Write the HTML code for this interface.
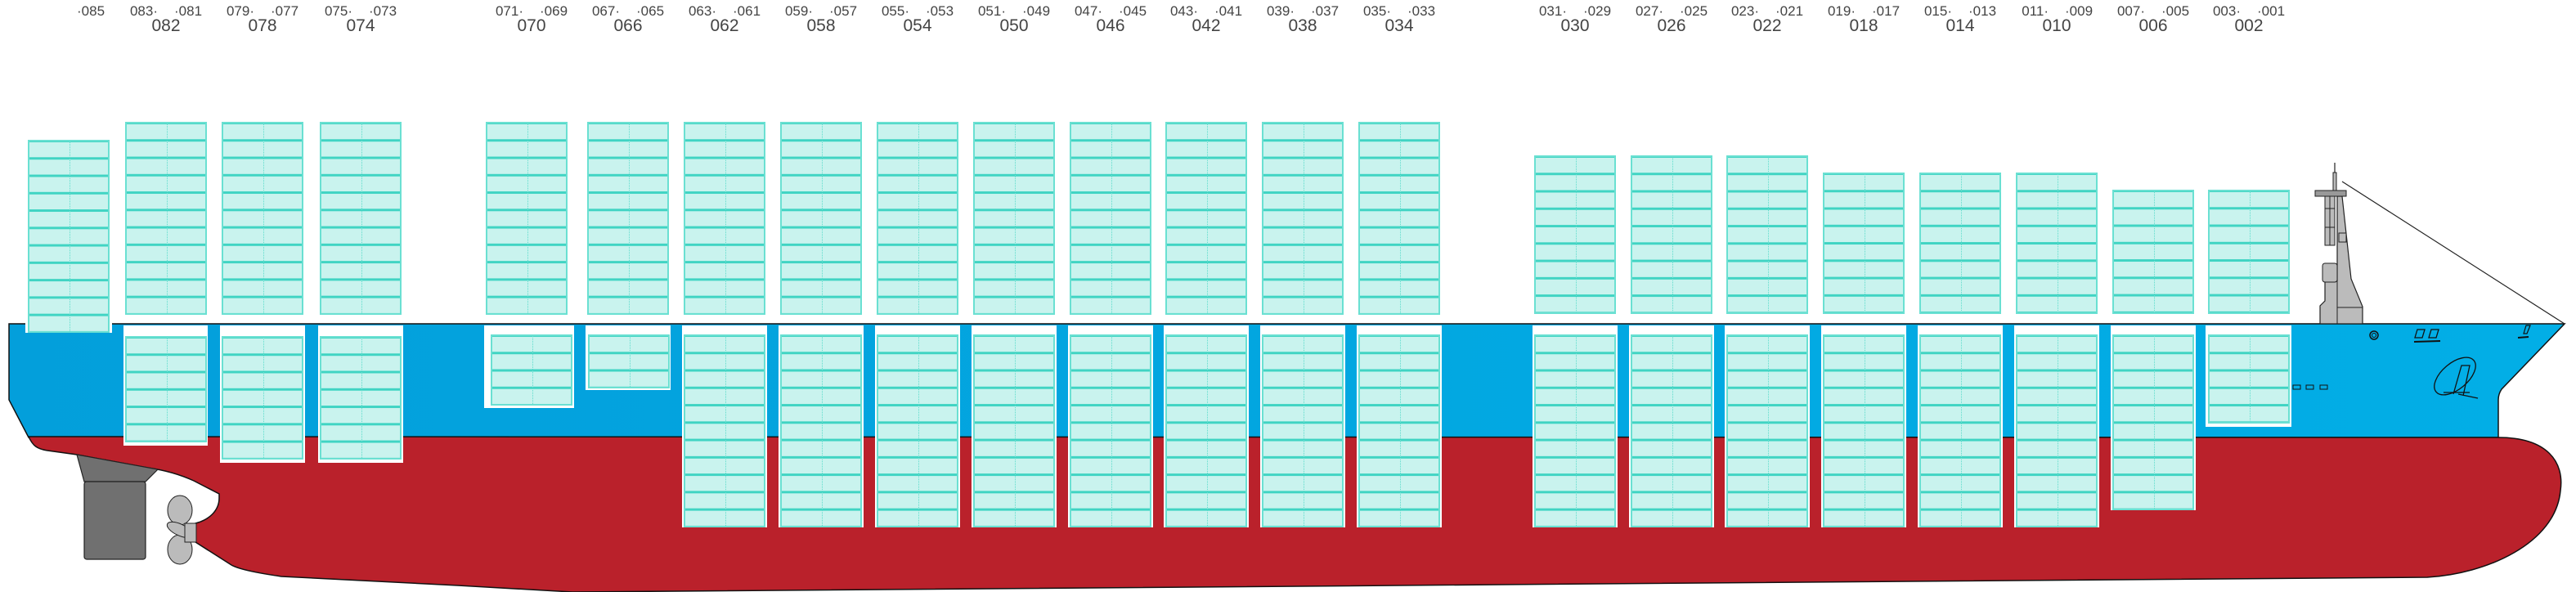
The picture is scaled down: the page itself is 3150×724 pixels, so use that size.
<!DOCTYPE html>
<html><head><meta charset="utf-8"><style>
html,body{margin:0;padding:0;background:#fff;width:3150px;height:724px;overflow:hidden;position:relative}
svg{position:absolute;left:0;top:0}
.st{position:absolute;box-sizing:border-box;width:100px;border:2px solid #6ae0d2;background:linear-gradient(#40d4c3 0 3px,#c9f3ee 3px) 0 -2px/100% 21.27px}
.st::after{content:"";position:absolute;left:49px;top:0;bottom:0;border-left:1.5px dotted #5fdccc}
.hb{position:absolute;background:#fff}
</style></head><body>
<svg width="3150" height="724" viewBox="0 0 3150 724" font-family="Liberation Sans, sans-serif" fill="#444">
<defs><linearGradient id="bl" x1="0" x2="1"><stop offset="0" stop-color="#039fdb"/><stop offset="1" stop-color="#02aee6"/></linearGradient></defs>
<path d="M11,396 L3136,396 L3059,476 Q3055,482 3055,489 L3055,535 L35,535 L11,489 Z" fill="url(#bl)" stroke="#111" stroke-width="1.5"/>
<path d="M35,534 L3055,535 C3115,535 3136,565 3131,600 C3125,665 3040,702 2968,706 L700,724 L560,716 L344,705 C310,700 290,695 283,691 L239,663 L239,640 C255,636 268,625 268,609 L268,604 L237,588 C215,578 195,574 180,572 L94,556 L58,551 C45,549 40,545 35,534 Z" fill="#ba212b" stroke="#111" stroke-width="1.5"/>
<polygon points="94,556 193,574 178,589 103,589" fill="#707070" stroke="#222" stroke-width="1.2"/>
<rect x="103" y="589" width="75" height="95" rx="3" fill="#707070" stroke="#222" stroke-width="1.2"/>
<ellipse cx="220" cy="624" rx="15" ry="18" fill="#bbb" stroke="#222"/>
<ellipse cx="220" cy="672" rx="15" ry="18" fill="#bbb" stroke="#222"/>
<ellipse cx="220" cy="648" rx="17" ry="7" fill="#bbb" stroke="#222" transform="rotate(25 220 648)"/>
<rect x="226" y="640" width="14" height="23" fill="#bbb" stroke="#222"/>
<line x1="2864" y1="222" x2="3136" y2="396" stroke="#222" stroke-width="1.2"/>
<line x1="2855" y1="199" x2="2855" y2="213" stroke="#222" stroke-width="1.2"/>
<rect x="2853" y="211" width="4" height="22" fill="#bbb" stroke="#222"/>
<polygon points="2837,396 2837,374 2843,368 2843,343 2858,343 2858,240 2864,240 2875,341 2889,375 2889,396" fill="#bbb" stroke="#222" stroke-width="1.2"/>
<line x1="2858" y1="343" x2="2858" y2="396" stroke="#222"/>
<line x1="2858" y1="376" x2="2889" y2="376" stroke="#222"/>
<rect x="2840" y="322" width="18" height="23" rx="3" fill="#bbb" stroke="#222"/>
<rect x="2831" y="233" width="38" height="7" fill="#999" stroke="#222"/>
<rect x="2843" y="240" width="12" height="60" fill="#bbb" stroke="#222"/>
<line x1="2849" y1="240" x2="2849" y2="300" stroke="#222"/>
<line x1="2843" y1="255" x2="2855" y2="255" stroke="#222"/><line x1="2843" y1="278" x2="2855" y2="278" stroke="#222"/>
<rect x="2860" y="285" width="9" height="11" fill="#bbb" stroke="#222"/>
<circle cx="2903" cy="410" r="5" fill="none" stroke="#111" stroke-width="1.5"/><circle cx="2903" cy="410" r="2.5" fill="none" stroke="#111"/>
<path d="M2956,403 h9 l-3,10 h-9 z M2973,403 h9 l-3,10 h-9 z" fill="none" stroke="#111" stroke-width="1.3"/>
<line x1="2952" y1="418" x2="2984" y2="417" stroke="#111" stroke-width="2"/>
<path d="M3089,398 h5 l-4,10 h-4 z" fill="none" stroke="#111" stroke-width="1.2"/>
<line x1="3079" y1="413" x2="3092" y2="412" stroke="#111" stroke-width="2"/>
<rect x="2804" y="471" width="9" height="5" fill="none" stroke="#111"/><rect x="2820" y="471" width="9" height="5" fill="none" stroke="#111"/><rect x="2837" y="471" width="9" height="5" fill="none" stroke="#111"/>
<ellipse cx="3002" cy="460" rx="30" ry="16" transform="rotate(-40 3002 460)" fill="none" stroke="#111" stroke-width="1.3"/>
<path d="M3000,482 L3010,447 L3020,447 L3012,484 M3006,482 L3030,487 M2988,480 L3020,480" fill="none" stroke="#111" stroke-width="1.3"/>
<g font-size="17">
<text x="94" y="19">·085</text>
<text x="193" y="19" text-anchor="end">083·</text><text x="213" y="19">·081</text>
<text x="311" y="19" text-anchor="end">079·</text><text x="331" y="19">·077</text>
<text x="431" y="19" text-anchor="end">075·</text><text x="451" y="19">·073</text>
<text x="640" y="19" text-anchor="end">071·</text><text x="660" y="19">·069</text>
<text x="758" y="19" text-anchor="end">067·</text><text x="778" y="19">·065</text>
<text x="876" y="19" text-anchor="end">063·</text><text x="896" y="19">·061</text>
<text x="994" y="19" text-anchor="end">059·</text><text x="1014" y="19">·057</text>
<text x="1112" y="19" text-anchor="end">055·</text><text x="1132" y="19">·053</text>
<text x="1230" y="19" text-anchor="end">051·</text><text x="1250" y="19">·049</text>
<text x="1348" y="19" text-anchor="end">047·</text><text x="1368" y="19">·045</text>
<text x="1465" y="19" text-anchor="end">043·</text><text x="1485" y="19">·041</text>
<text x="1583" y="19" text-anchor="end">039·</text><text x="1603" y="19">·037</text>
<text x="1701" y="19" text-anchor="end">035·</text><text x="1721" y="19">·033</text>
<text x="1916" y="19" text-anchor="end">031·</text><text x="1936" y="19">·029</text>
<text x="2034" y="19" text-anchor="end">027·</text><text x="2054" y="19">·025</text>
<text x="2151" y="19" text-anchor="end">023·</text><text x="2171" y="19">·021</text>
<text x="2269" y="19" text-anchor="end">019·</text><text x="2289" y="19">·017</text>
<text x="2387" y="19" text-anchor="end">015·</text><text x="2407" y="19">·013</text>
<text x="2505" y="19" text-anchor="end">011·</text><text x="2525" y="19">·009</text>
<text x="2623" y="19" text-anchor="end">007·</text><text x="2643" y="19">·005</text>
<text x="2740" y="19" text-anchor="end">003·</text><text x="2760" y="19">·001</text>
</g>
<g font-size="21" text-anchor="middle">
<text x="203" y="38">082</text><text x="321" y="38">078</text><text x="441" y="38">074</text>
<text x="650" y="38">070</text><text x="768" y="38">066</text><text x="886" y="38">062</text>
<text x="1004" y="38">058</text><text x="1122" y="38">054</text><text x="1240" y="38">050</text>
<text x="1358" y="38">046</text><text x="1475" y="38">042</text><text x="1593" y="38">038</text>
<text x="1711" y="38">034</text><text x="1926" y="38">030</text><text x="2044" y="38">026</text>
<text x="2161" y="38">022</text><text x="2279" y="38">018</text><text x="2397" y="38">014</text>
<text x="2515" y="38">010</text><text x="2633" y="38">006</text><text x="2750" y="38">002</text>
</g>
</svg>
<div class="hb" style="left:151px;top:398px;width:103px;height:147px"></div>
<div class="hb" style="left:269px;top:398px;width:104px;height:168px"></div>
<div class="hb" style="left:389px;top:398px;width:104px;height:168px"></div>
<div class="hb" style="left:592px;top:398px;width:110px;height:101px"></div>
<div class="hb" style="left:716px;top:398px;width:104px;height:79px"></div>
<div class="hb" style="left:834px;top:398px;width:104px;height:247px"></div>
<div class="hb" style="left:952px;top:398px;width:104px;height:247px"></div>
<div class="hb" style="left:1070px;top:398px;width:104px;height:247px"></div>
<div class="hb" style="left:1188px;top:398px;width:104px;height:247px"></div>
<div class="hb" style="left:1306px;top:398px;width:104px;height:247px"></div>
<div class="hb" style="left:1423px;top:398px;width:104px;height:247px"></div>
<div class="hb" style="left:1541px;top:398px;width:104px;height:247px"></div>
<div class="hb" style="left:1659px;top:398px;width:104px;height:247px"></div>
<div class="hb" style="left:1874px;top:398px;width:104px;height:247px"></div>
<div class="hb" style="left:1992px;top:398px;width:104px;height:247px"></div>
<div class="hb" style="left:2109px;top:398px;width:104px;height:247px"></div>
<div class="hb" style="left:2227px;top:398px;width:104px;height:247px"></div>
<div class="hb" style="left:2345px;top:398px;width:104px;height:247px"></div>
<div class="hb" style="left:2463px;top:398px;width:104px;height:247px"></div>
<div class="hb" style="left:2581px;top:398px;width:104px;height:226px"></div>
<div class="hb" style="left:2697px;top:398px;width:105px;height:124px"></div>
<div class="hb" style="left:31px;top:168px;width:106px;height:239px"></div>
<div class="st" style="left:34px;top:171px;height:236px"></div>
<div class="st" style="left:153px;top:149px;height:236px"></div>
<div class="st" style="left:271px;top:149px;height:236px"></div>
<div class="st" style="left:391px;top:149px;height:236px"></div>
<div class="st" style="left:594px;top:149px;height:236px"></div>
<div class="st" style="left:718px;top:149px;height:236px"></div>
<div class="st" style="left:836px;top:149px;height:236px"></div>
<div class="st" style="left:954px;top:149px;height:236px"></div>
<div class="st" style="left:1072px;top:149px;height:236px"></div>
<div class="st" style="left:1190px;top:149px;height:236px"></div>
<div class="st" style="left:1308px;top:149px;height:236px"></div>
<div class="st" style="left:1425px;top:149px;height:236px"></div>
<div class="st" style="left:1543px;top:149px;height:236px"></div>
<div class="st" style="left:1661px;top:149px;height:236px"></div>
<div class="st" style="left:1876px;top:190px;height:194px"></div>
<div class="st" style="left:1994px;top:190px;height:194px"></div>
<div class="st" style="left:2111px;top:190px;height:194px"></div>
<div class="st" style="left:2229px;top:211px;height:173px"></div>
<div class="st" style="left:2347px;top:211px;height:173px"></div>
<div class="st" style="left:2465px;top:211px;height:173px"></div>
<div class="st" style="left:2583px;top:232px;height:152px"></div>
<div class="st" style="left:2700px;top:232px;height:152px"></div>
<div class="st" style="left:153px;top:411px;height:130px"></div>
<div class="st" style="left:271px;top:411px;height:151px"></div>
<div class="st" style="left:391px;top:411px;height:151px"></div>
<div class="st" style="left:600px;top:409px;height:87px"></div>
<div class="st" style="left:719px;top:409px;height:66px"></div>
<div class="st" style="left:836px;top:409px;height:236px"></div>
<div class="st" style="left:954px;top:409px;height:236px"></div>
<div class="st" style="left:1072px;top:409px;height:236px"></div>
<div class="st" style="left:1190px;top:409px;height:236px"></div>
<div class="st" style="left:1308px;top:409px;height:236px"></div>
<div class="st" style="left:1425px;top:409px;height:236px"></div>
<div class="st" style="left:1543px;top:409px;height:236px"></div>
<div class="st" style="left:1661px;top:409px;height:236px"></div>
<div class="st" style="left:1876px;top:409px;height:236px"></div>
<div class="st" style="left:1994px;top:409px;height:236px"></div>
<div class="st" style="left:2111px;top:409px;height:236px"></div>
<div class="st" style="left:2229px;top:409px;height:236px"></div>
<div class="st" style="left:2347px;top:409px;height:236px"></div>
<div class="st" style="left:2465px;top:409px;height:236px"></div>
<div class="st" style="left:2583px;top:409px;height:215px"></div>
<div class="st" style="left:2700px;top:409px;height:109px"></div>
</body></html>
